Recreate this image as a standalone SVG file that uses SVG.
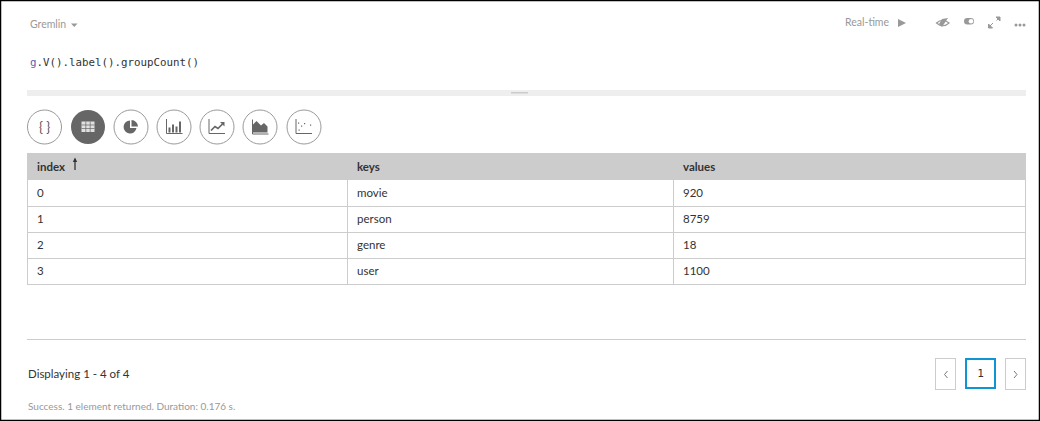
<svg xmlns="http://www.w3.org/2000/svg" width="1040" height="421" viewBox="0 0 1040 421">
<style>
text{font-family:Lato,"Open Sans",sans-serif}
.t{font-size:11.500px;fill:#333}
.h{font-size:11.500px;fill:#333;font-weight:700}
.g{fill:#999;font-size:10.500px}
.c{fill:#fff;stroke:#9a9a9a;stroke-width:1}
.i{fill:#666;stroke:none}
.l{fill:none;stroke:#666;stroke-width:1}
.b{fill:none;stroke:#ccc;stroke-width:1}
</style>
<rect x="0.5" y="0.5" width="1039" height="420" fill="#fff" stroke="#000" stroke-width="1.5"/>
<g id="toolbar">
<text x="30" y="28" class="g">Gremlin</text>
<path d="M71 23.500h6.500l-3.250 3.500z" fill="#999"/>
<text x="845" y="26" class="g">Real-time</text>
<path d="M898 19l8 4-8 4z" fill="#999"/>
<path d="M936.500 23q6-5.500 12.500 0q-6 5.500-12.500 0z" fill="none" stroke="#999" stroke-width="1.200"/>
<path d="M939 24l3 3 6-9-6 1z" fill="#999"/>
<rect x="964" y="18" width="10" height="6.500" rx="3.250" fill="#999"/><circle cx="971" cy="21.250" r="2.300" fill="#fff"/>
<path d="M989.500 26.500l3.500-3.500M996.500 20.500l3-3M988.500 24v4h4zM1000 17h-4l4 4z" fill="#999" stroke="#999"/>
<circle cx="1016" cy="25" r="1.500" fill="#999"/><circle cx="1020" cy="25" r="1.500" fill="#999"/><circle cx="1024" cy="25" r="1.500" fill="#999"/>
</g>
<g id="query">
<text y="66" font-size="10.800" style="font-family:'DejaVu Sans Mono','Liberation Mono',monospace" fill="#333"><tspan x="30" fill="#5b5fb5">g</tspan><tspan>.V().label().groupCount()</tspan></text>
<rect x="27" y="90" width="999" height="6" fill="#eee"/>
<rect x="511" y="92" width="17" height="1.500" fill="#ccc"/>
</g>
<g id="view-buttons">
<g id="btn-json"><circle class="c" cx="44.500" cy="127" r="17"/><text x="44.500" y="131.500" text-anchor="middle" font-size="13" fill="#555">{ }</text></g>
<g id="btn-table"><circle cx="88" cy="127" r="17" fill="#666"/><rect x="81.500" y="121.500" width="13" height="10.500" fill="#e0e0e0"/><path d="M81.500 125h13M81.500 128.500h13M85.800 121.500v10.500M90.200 121.500v10.500" stroke="#666" stroke-width=".7"/></g>
<g id="btn-pie"><circle class="c" cx="131" cy="127" r="17"/><path d="M130 120.500a6.500 6.500 0 1 0 6.500 7.500h-6.500z" class="i"/><path d="M131.500 120a7 7 0 0 1 6.500 6.500h-6.500z" class="i"/></g>
<g id="btn-bar"><circle class="c" cx="174" cy="127" r="17"/><path d="M166.500 119v14.500h16" class="l"/><path d="M168.500 127.500h2v5h-2zM172 124.500h2v8h-2zM175.500 126.500h2v6h-2zM179 121.500h2v11h-2z" class="i"/></g>
<g id="btn-line"><circle class="c" cx="217" cy="127" r="17"/><path d="M209 119v14.500h16" class="l"/><path d="M211 130.500l4-4 3 2 5-5" fill="none" stroke="#666" stroke-width="1.700"/><path d="M220 122h4.500v4.500z" class="i"/></g>
<g id="btn-area"><circle class="c" cx="260" cy="127" r="17"/><path d="M252.500 119.500v14.500h16" class="l"/><path d="M253 132.500v-8l3.500-3.500 4.500 4.500 3-2.500 3.500 3.500v6z" class="i"/></g>
<g id="btn-scatter"><circle class="c" cx="304" cy="127" r="17"/><path d="M296 119v14.500h16" class="l" stroke="#888"/><g class="i"><rect x="298" y="122.500" width="1.200" height="1.200"/><rect x="301" y="125.500" width="1.200" height="1.200"/><rect x="304" y="123" width="1.200" height="1.200"/><rect x="298.500" y="129.500" width="1.200" height="1.200"/><rect x="310" y="124.500" width="1.200" height="1.200"/></g></g>
</g>
<g id="table">
<rect x="27" y="153" width="999" height="27" fill="#ccc"/>
<rect x="27.500" y="153.500" width="998" height="131" fill="none" stroke="#ccc"/>
<path d="M27 206.500h999M27 232.500h999M27 258.500h999M347.500 180v104M673.500 180v104" class="b"/>
<text x="37" y="171" class="h">index</text>
<path d="M75 170v-11" stroke="#333" stroke-width="1.300"/><path d="M72.800 162l2.200-4.500 2.200 4.500z" fill="#333"/>
<text x="357" y="171" class="h">keys</text>
<text x="683" y="171" class="h">values</text>
<text x="37" y="197" class="t">0</text><text x="357" y="197" class="t">movie</text><text x="683" y="197" class="t">920</text>
<text x="37" y="223" class="t">1</text><text x="357" y="223" class="t">person</text><text x="683" y="223" class="t">8759</text>
<text x="37" y="249" class="t">2</text><text x="357" y="249" class="t">genre</text><text x="683" y="249" class="t">18</text>
<text x="37" y="275" class="t">3</text><text x="357" y="275" class="t">user</text><text x="683" y="275" class="t">1100</text>
</g>
<g id="footer">
<path d="M27 339.500h999" class="b"/>
<text x="28" y="378" font-size="11.500" fill="#333">Displaying 1 - 4 of 4</text>
<text x="28" y="410" font-size="10" fill="#999">Success. 1 element returned. Duration: 0.176 s.</text>
</g>
<g id="pagination">
<rect x="935.500" y="358.500" width="20" height="31" fill="#fff" stroke="#ccc"/>
<path d="M947.500 371l-3 3.500 3 3.500" fill="none" stroke="#777"/>
<rect x="966" y="359" width="29" height="29" fill="#fff" stroke="#0f95d3" stroke-width="2"/>
<text x="980.500" y="377" text-anchor="middle" font-size="11" style="font-family:'DejaVu Sans Mono',monospace" fill="#333">1</text>
<rect x="1005.500" y="358.500" width="20" height="31" fill="#fff" stroke="#ccc"/>
<path d="M1014 371l3 3.500-3 3.500" fill="none" stroke="#777"/>
</g>
</svg>
